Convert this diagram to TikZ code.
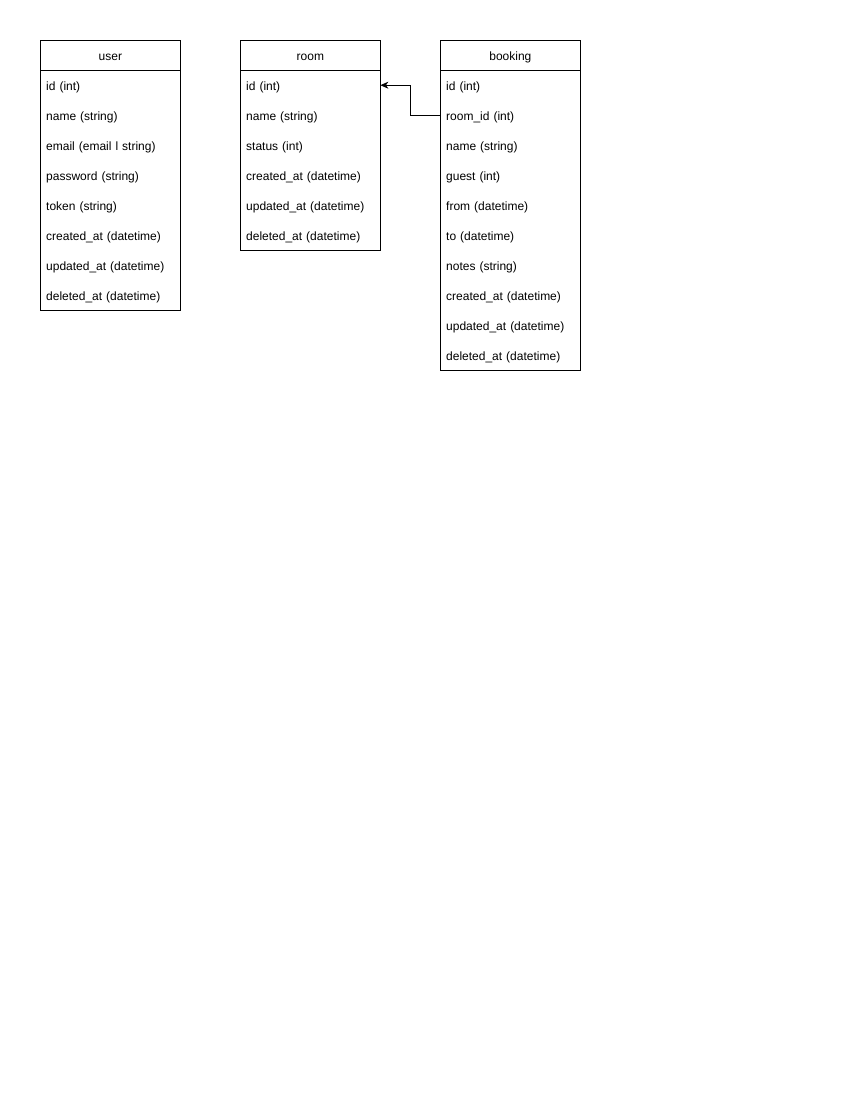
\documentclass[tikz,border=0pt]{standalone}
\usepackage{fontspec}
\setmainfont{Liberation Sans}
\usetikzlibrary{arrows.meta}
\begin{document}
\begin{tikzpicture}[x=1pt,y=-1pt,
  every node/.style={font=\fontsize{12}{14}\selectfont},
  hdr/.style={draw=black, line width=0.8pt, minimum width=140pt, minimum height=30pt, inner sep=0pt, anchor=north west, text height=12pt, text depth=1.6pt},
  rowbox/.style={minimum width=140pt, minimum height=30pt, text width=128pt, inner xsep=6pt, inner ysep=0pt, anchor=north west, align=left, text height=12pt, text depth=1.6pt},
  tbl/.style={draw=black, line width=0.8pt},
  link/.style={draw=black, line width=0.8pt, -{Stealth[length=8pt,width=7pt,inset=2.5pt]}}
]
\useasboundingbox (0,0) rectangle (850,1100);
\fill[white] (0,0) rectangle (850,1100);

% user table
\node[hdr] (user-h) at (40,40) {user};
\foreach \t [count=\i] in {id (int), name (string), email (email l string), password (string), token (string), created\_at (datetime), updated\_at (datetime), deleted\_at (datetime)}
  \node[rowbox] (user-\i) at (40,{40+30*\i}) {\t};
\draw[tbl] (user-h.north west) rectangle (user-8.south east);

% room table
\node[hdr] (room-h) at (240,40) {room};
\foreach \t [count=\i] in {id (int), name (string), status (int), created\_at (datetime), updated\_at (datetime), deleted\_at (datetime)}
  \node[rowbox] (room-\i) at (240,{40+30*\i}) {\t};
\draw[tbl] (room-h.north west) rectangle (room-6.south east);

% booking table
\node[hdr] (booking-h) at (440,40) {booking};
\foreach \t [count=\i] in {id (int), room\_id (int), name (string), guest (int), from (datetime), to (datetime), notes (string), created\_at (datetime), updated\_at (datetime), deleted\_at (datetime)}
  \node[rowbox] (booking-\i) at (440,{40+30*\i}) {\t};
\draw[tbl] (booking-h.north west) rectangle (booking-10.south east);

% relation
\coordinate (bend) at (410,0);
\draw[link] (booking-2.west) -| (bend |- booking-2.west) |- (room-1.east);
\end{tikzpicture}
\end{document}
